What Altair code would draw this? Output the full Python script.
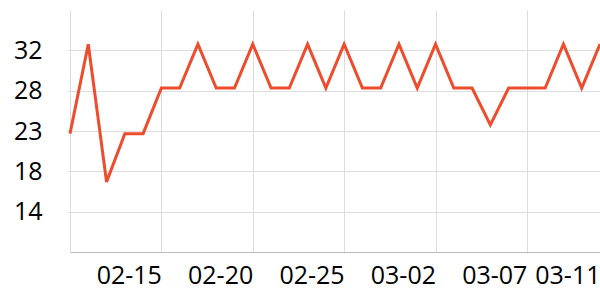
import altair as alt
import pandas as pd

dates = ["02-10", "02-11", "02-12", "02-13", "02-14", "02-15", "02-16", "02-17",
         "02-18", "02-19", "02-20", "02-21", "02-22", "02-23", "02-24", "02-25",
         "02-26", "02-27", "02-28", "03-01", "03-02", "03-03", "03-04", "03-05",
         "03-06", "03-07", "03-08", "03-09", "03-10", "03-11"]
values = [22.7, 32.9, 17.2, 22.7, 22.7, 27.9, 27.9, 32.9, 27.9, 27.9,
          32.9, 27.9, 27.9, 32.9, 27.9, 32.9, 27.9, 27.9, 32.9, 27.9,
          32.9, 27.9, 27.9, 23.7, 27.9, 27.9, 27.9, 32.9, 27.9, 32.9]
x_ticks = ["02-10", "02-15", "02-20", "02-25", "03-02", "03-07", "03-11"]
y_ticks = [13.8, 18.4, 23.0, 27.6, 32.2]
y_domain = [9.2, 36.8]

df = pd.DataFrame({"date": dates, "value": values})

FONT = "Open Sans"

chart = alt.Chart(df).mark_line(color="#ee4c2c", strokeWidth=3).encode(
    x=alt.X("date:O", sort=None, title=None,
            scale=alt.Scale(type="point", padding=0),
            axis=alt.Axis(values=x_ticks, labelAngle=0, labelAlign="right",
                          labelBaseline="top", labelPadding=11,
                          labelExpr="datum.value == '02-10' ? '' : datum.label",
                          labelFont=FONT, labelFontSize=25, labelColor="#000",
                          ticks=False, grid=True, gridColor="#dddddd",
                          domainColor="#bbbbbb", labelOverlap=False)),
    y=alt.Y("value:Q", title=None,
            scale=alt.Scale(domain=y_domain, nice=False, zero=False),
            axis=alt.Axis(values=y_ticks, format=".0f", domain=False,
                          tickSize=3, tickColor="#dddddd", labelPadding=25,
                          labelFont=FONT, labelFontSize=25, labelColor="#000",
                          gridColor="#dddddd")),
).properties(
    width=530, height=242,
    autosize=alt.AutoSizeParams(type="none"),
    padding={"left": 70, "top": 10, "right": 0, "bottom": 48},
).configure_view(stroke=None)

chart.save("out.html", embed_options={"renderer": "svg", "actions": False})
